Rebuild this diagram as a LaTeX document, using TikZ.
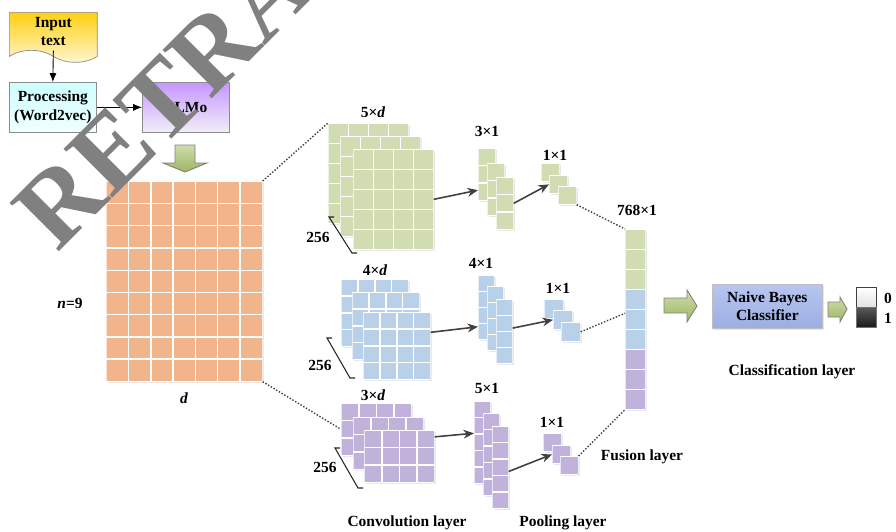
\documentclass[tikz,border=0pt]{standalone}
\usepackage{fontspec}
\setmainfont{Liberation Serif}
\usetikzlibrary{calc,shapes.symbols,shadows,arrows.meta}
\definecolor{ocol}{HTML}{F2B48A}
\definecolor{gcol}{HTML}{D1DCB2}
\definecolor{bcol}{HTML}{B8D0E8}
\definecolor{pcol}{HTML}{C0B2DA}
\definecolor{arrl}{HTML}{CFDDAB}
\definecolor{arrd}{HTML}{9DB565}
\definecolor{intop}{HTML}{FFCF10}
\definecolor{inbot}{HTML}{FFF8D8}
\definecolor{emtop}{HTML}{C596FF}
\definecolor{embot}{HTML}{F2EEF6}
\definecolor{nbtop}{HTML}{B8C5F0}
\definecolor{nbbot}{HTML}{9CAEE2}
\begin{document}
\begin{tikzpicture}[x=0.02cm,y=-0.02cm,font=\fontsize{8.8}{10.4}\selectfont\bfseries]
  \tikzset{
    cells/.style 2 args={path picture={
      \foreach \k in {0,...,#1}
        \draw[white,line width=0.8pt] ($(path picture bounding box.north west)!\k/#1!(path picture bounding box.north east)$)
          -- ($(path picture bounding box.south west)!\k/#1!(path picture bounding box.south east)$);
      \foreach \k in {0,...,#2}
        \draw[white,line width=0.8pt] ($(path picture bounding box.north west)!\k/#2!(path picture bounding box.south west)$)
          -- ($(path picture bounding box.north east)!\k/#2!(path picture bounding box.south east)$);
    }},
    lay/.style n args={4}{inner sep=0,anchor=north west,minimum width=#1,minimum height=#2,cells={#3}{#4},
      drop shadow={opacity=0.18,shadow xshift=1pt,shadow yshift=-1pt}},
    box/.style={draw=black!45,align=center,inner sep=2pt,anchor=north west,minimum width=1.74cm,minimum height=1cm},
    fa/.style={-{Latex[length=5pt,width=4pt]},black,line width=0.5pt},
    la/.style={-{Stealth[length=6pt,width=5pt]},black!75,line width=0.9pt},
    dl/.style={densely dotted,black!75,line width=0.8pt},
    bigarr/.style={draw=black!50,line width=0.5pt,top color=arrl,bottom color=arrd},
    brk/.style={black!85,line width=0.6pt},
    wm/.style={rotate=45,anchor=base west,inner sep=0,text=black!50,font=\fontsize{60}{60}\selectfont\bfseries}
  }
  \useasboundingbox (0,0) rectangle (896,531);

  \node[box,tape,tape bend top=none,tape bend bottom=out and in,tape bend height=0.24cm,minimum width=1.76cm,
    top color=intop,bottom color=inbot] (in) at (9,12) {Input\\text};
  \node[box,top color=cyan!20,bottom color=cyan!5] (pre) at (9,82) {Processing\\(Word2vec)};
  \node[box,top color=emtop,bottom color=embot] (elmo) at (142,82) {ELMo};
  \draw[fa] (in.south) -- (pre.north);
  \draw[fa] (pre.east) -- (elmo.west);
  \draw[bigarr] (175,145) -- (195,145) -- (195,163) -- (207,163) -- (185,172) -- (163,163) -- (175,163) -- cycle;

  \node[lay={3.12cm}{4cm}{7}{9},fill=ocol] (emb) at (106,181) {};
  \node (nn) at (70,303) {\textit{n}=9};
  \node (dd) at (184,398) {\textit{d}};

  \node[lay={1.6cm}{2cm}{4}{5},fill=gcol] (c5a) at (328,123) {};
  \node[lay={1.6cm}{2cm}{4}{5},fill=gcol] (c5b) at (340,136) {};
  \node[lay={1.6cm}{2cm}{4}{5},fill=gcol] (c5c) at (353,149) {};
  \node[lay={1.34cm}{1.34cm}{4}{4},fill=bcol] (c4a) at (341,279) {};
  \node[lay={1.34cm}{1.34cm}{4}{4},fill=bcol] (c4b) at (352,292) {};
  \node[lay={1.34cm}{1.34cm}{4}{4},fill=bcol] (c4c) at (363,312) {};
  \node[lay={1.4cm}{1.04cm}{4}{3},fill=pcol] (c3a) at (341,403) {};
  \node[lay={1.4cm}{1.04cm}{4}{3},fill=pcol] (c3b) at (353,417) {};
  \node[lay={1.4cm}{1.04cm}{4}{3},fill=pcol] (c3c) at (364,430) {};
  \node (k5) at (373,112) {5×\textit{d}};
  \node (k4) at (375,270) {4×\textit{d}};
  \node (k3) at (373,395) {3×\textit{d}};
  \draw[brk] (334,217) -- (329,217) -- (352,253) -- (357,253);
  \draw[brk] (332,338) -- (327,338) -- (350,378) -- (355,378);
  \draw[brk] (340,448) -- (335,448) -- (358,488) -- (363,488);
  \node (n5) at (318,237) {256};
  \node (n4) at (320,365) {256};
  \node (n3) at (325,467) {256};

  \node[lay={0.34cm}{1.04cm}{1}{3},fill=gcol] (p3a) at (478,148) {};
  \node[lay={0.34cm}{1.04cm}{1}{3},fill=gcol] (p3b) at (487,163) {};
  \node[lay={0.34cm}{1.04cm}{1}{3},fill=gcol] (p3c) at (496,177) {};
  \node[lay={0.32cm}{1.28cm}{1}{4},fill=bcol] (p4a) at (478,275) {};
  \node[lay={0.32cm}{1.28cm}{1}{4},fill=bcol] (p4b) at (487,286) {};
  \node[lay={0.32cm}{1.28cm}{1}{4},fill=bcol] (p4c) at (496,299) {};
  \node[lay={0.32cm}{1.64cm}{1}{5},fill=pcol] (p5a) at (474,401) {};
  \node[lay={0.32cm}{1.64cm}{1}{5},fill=pcol] (p5b) at (483,413) {};
  \node[lay={0.32cm}{1.64cm}{1}{5},fill=pcol] (p5c) at (492,426) {};
  \node (r3) at (487,131) {3×1};
  \node (r4) at (481,263) {4×1};
  \node (r5) at (487,388) {5×1};

  \node[lay={0.36cm}{0.36cm}{1}{1},fill=gcol] (pg1) at (541,163) {};
  \node[lay={0.36cm}{0.36cm}{1}{1},fill=gcol] (pg2) at (549,175) {};
  \node[lay={0.36cm}{0.36cm}{1}{1},fill=gcol] (pg3) at (558,186) {};
  \node[lay={0.38cm}{0.38cm}{1}{1},fill=bcol] (pb1) at (544,299) {};
  \node[lay={0.38cm}{0.38cm}{1}{1},fill=bcol] (pb2) at (553,310) {};
  \node[lay={0.38cm}{0.38cm}{1}{1},fill=bcol] (pb3) at (561,322) {};
  \node[lay={0.36cm}{0.36cm}{1}{1},fill=pcol] (pp1) at (543,433) {};
  \node[lay={0.36cm}{0.36cm}{1}{1},fill=pcol] (pp2) at (552,445) {};
  \node[lay={0.36cm}{0.36cm}{1}{1},fill=pcol] (pp3) at (560,456) {};
  \node (s3) at (555,155) {1×1};
  \node (s4) at (558,288) {1×1};
  \node (s5) at (552,422) {1×1};

  \node[lay={0.4cm}{1.2cm}{1}{3},fill=gcol] (fg) at (625,229) {};
  \node[lay={0.4cm}{1.2cm}{1}{3},fill=bcol] (fb) at (625,289) {};
  \node[lay={0.4cm}{1.2cm}{1}{3},fill=pcol] (fp) at (625,349) {};
  \node (fv) at (637,210) {768×1};

  \draw[dl] (emb.north east) -- (c5a.north west);
  \draw[dl] (emb.south east) -- (c3a.west);
  \draw[la] (c5c.east) -- ($(p3a.south west)!0.2!(p3a.north west)$);
  \draw[la] (p3c.east) -- (pg2.west);
  \draw[la] ($(c4c.north east)!0.3!(c4c.south east)$) -- ($(p4a.north west)!0.8!(p4a.south west)$);
  \draw[la] ($(p4c.north east)!0.45!(p4c.south east)$) -- (pb2.west);
  \draw[la] ($(c3c.north east)!0.13!(c3c.south east)$) -- ($(p5a.north west)!0.39!(p5a.south west)$);
  \draw[la] ($(p5c.north east)!0.55!(p5c.south east)$) -- (pp2.west);
  \draw[dl] (pg3.south east) -- (fg.north west);
  \draw[dl] (pb3.east) -- ($(fb.north west)!0.4!(fb.south west)$);
  \draw[dl] (pp3.north east) -- (fp.south west);

  \draw[bigarr] (664,298) -- (687,298) -- (687,290) -- (697,306) -- (687,322) -- (687,313) -- (664,313) -- cycle;
  \node[box,draw=black!25,minimum width=2.2cm,minimum height=0.88cm,top color=nbtop,bottom color=nbbot,
    drop shadow={opacity=0.2,shadow xshift=1pt,shadow yshift=-1pt}] (nb) at (712,284) {Naive Bayes\\Classifier};
  \draw[bigarr] (828,302) -- (840,302) -- (840,297) -- (847,309) -- (840,322) -- (840,317) -- (828,317) -- cycle;
  \node[anchor=north west,inner sep=0,minimum width=0.4cm,minimum height=0.42cm,draw=black!75,top color=white,bottom color=black!12] (o0) at (856,287) {};
  \node[anchor=north west,inner sep=0,minimum width=0.4cm,minimum height=0.4cm,draw=black!55,top color=black!65,bottom color=black!90] (o1) at (856,307) {};
  \node (t0) at (888,298) {0};
  \node (t1) at (888,318) {1};

  \node (cl) at (407,523) {Convolution layer};
  \node (pl) at (563,523) {Pooling layer};
  \node (fl) at (642,457) {Fusion layer};
  \node (kl) at (792,372) {Classification layer};

  \begin{scope}
    \clip (0,0) rectangle (896,531);
    \node[wm] (wt) at (57,254) {RETRA};
  \end{scope}
\end{tikzpicture}
\end{document}
